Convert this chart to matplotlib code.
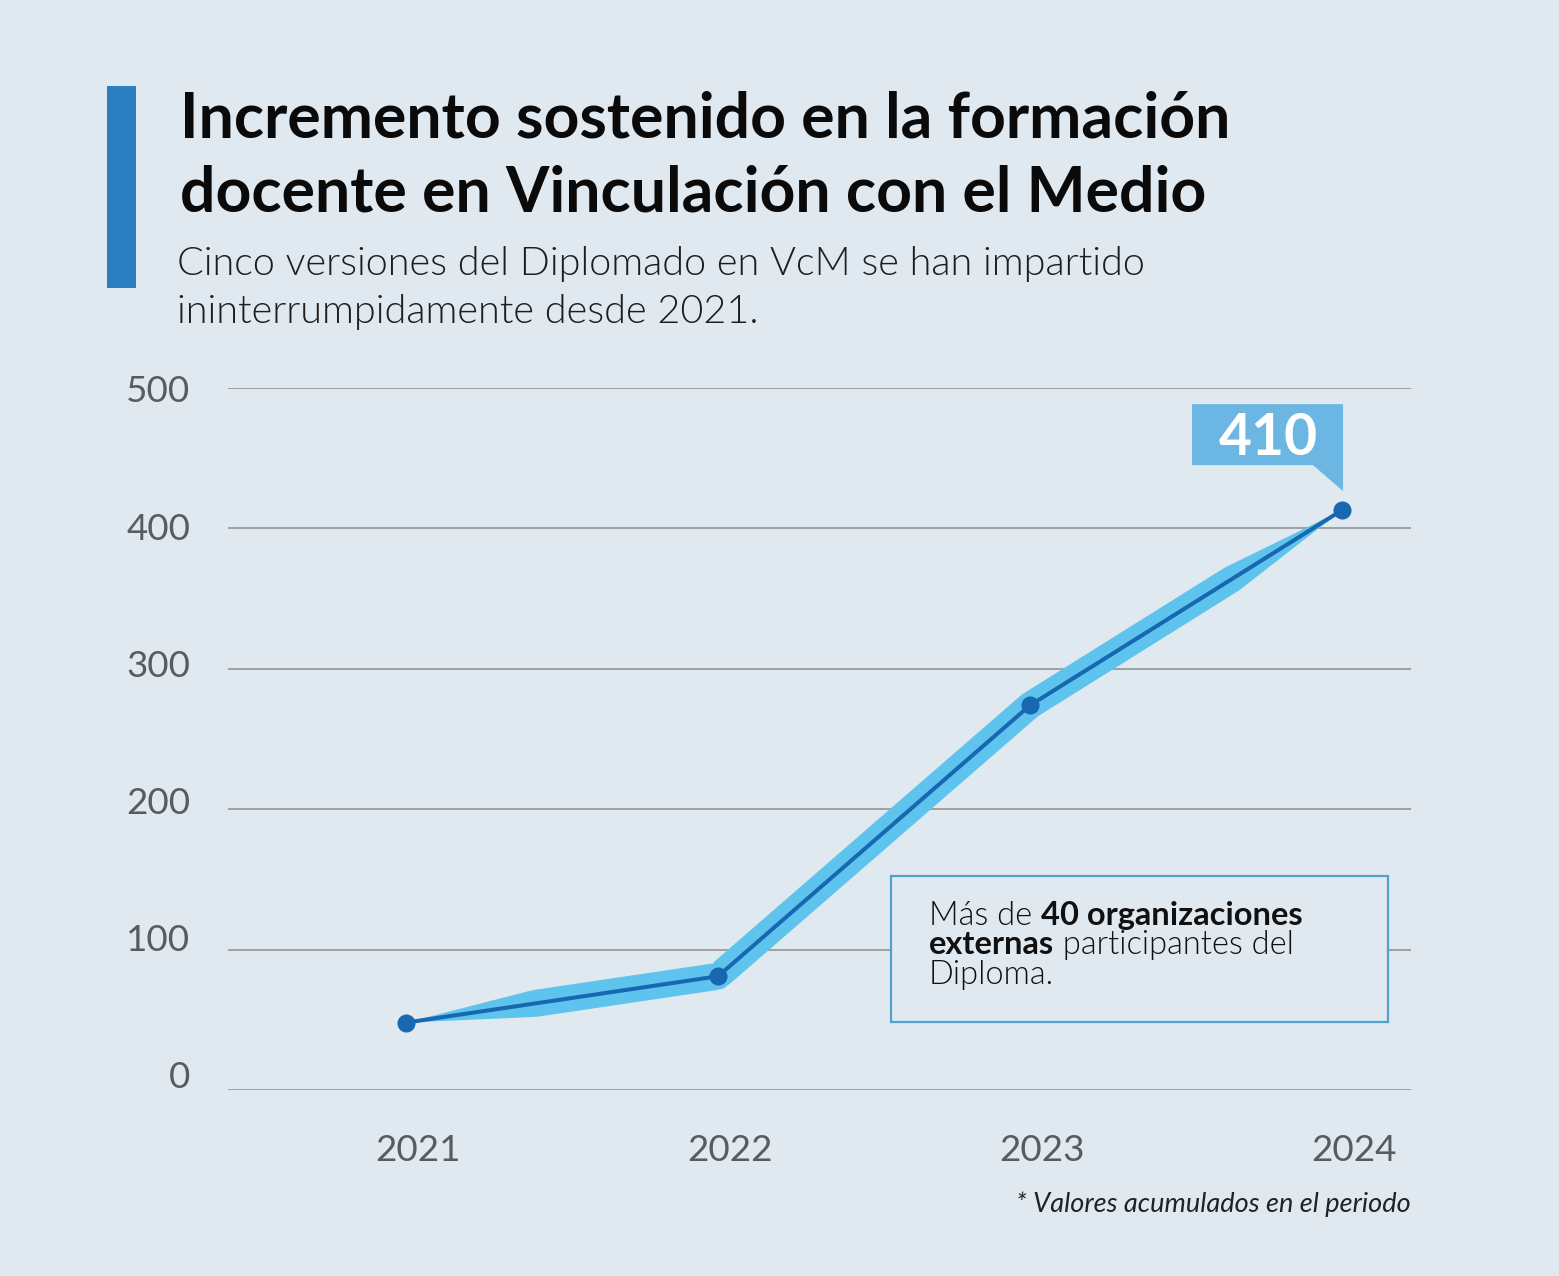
import numpy as np
import matplotlib
matplotlib.use("Agg")
import matplotlib.pyplot as plt
from matplotlib.patches import Rectangle, Polygon
from matplotlib import transforms

# ---------------- data ----------------
years = ["2021", "2022", "2023", "2024"]
values = [48, 81, 274, 413]
highlight_label = "410"
y_ticks = [0, 100, 200, 300, 400, 500]
y_tick_labels = ["0", "100", "200", "300", "400", "500"]

title_lines = ["Incremento sostenido en la formación",
               "docente en Vinculación con el Medio"]
subtitle_lines = ["Cinco versiones del Diplomado en VcM se han impartido",
                  "ininterrumpidamente desde 2021."]
footnote = "* Valores acumulados en el periodo"

# ---------------- style ----------------
BG = "#E1E9F0"
BAND = "#5EC4EE"
LINE = "#1767B1"
CALLOUT = "#6CB6E4"
BAR = "#2A7EC1"
GRID = "#8C8C8C"
TICK = "#585C61"
BOXEDGE = "#4DA3CD"
FONT = "Lato"
LIGHT = 300

W, H = 1559, 1276
fig = plt.figure(figsize=(W / 100, H / 100), dpi=100, facecolor=BG)


def fx(px):
    return px / W


def fy(py):
    return 1 - py / H


ax_l, ax_r, ax_t, ax_b = 228, 1411, 388, 1090
ax = fig.add_axes([fx(ax_l), fy(ax_b), fx(ax_r - ax_l), (ax_b - ax_t) / H])
ax.set_facecolor("none")
for s in ax.spines.values():
    s.set_visible(False)

x = np.arange(len(years))
ax.set_xlim(-0.5705, 3.221)
ax.set_ylim(0, 500)

ax.set_yticks(y_ticks)
ax.set_yticklabels(y_tick_labels)
ax.set_xticks(x)
ax.set_xticklabels(years)
ax.tick_params(axis="both", length=0, colors=TICK, labelsize=26.5)
ax.tick_params(axis="y", pad=27)
ax.tick_params(axis="x", pad=32)
for val, lab in zip(y_ticks, ax.get_yticklabels()):
    lab.set_fontfamily(FONT)
    # labels sit progressively higher above their gridline towards the bottom
    shift = (15 - 16 * val / 500) / 100
    lab.set_transform(lab.get_transform() + transforms.ScaledTranslation(0, shift, fig.dpi_scale_trans))
for lab in ax.get_xticklabels():
    lab.set_fontfamily(FONT)
    lab.set_transform(lab.get_transform() + transforms.ScaledTranslation(12 / 100, 0, fig.dpi_scale_trans))
ax.grid(axis="y", color=GRID, linewidth=1.1)
ax.grid(axis="x", visible=False)
ax.set_axisbelow(True)

# ---------------- band (tapered ribbon around the line) ----------------
fig.canvas.draw()
pts = ax.transData.transform(np.column_stack([x, values]))
dense = []
for i in range(len(pts) - 1):
    for t in np.linspace(0, 1, 60, endpoint=False):
        dense.append(pts[i] + t * (pts[i + 1] - pts[i]))
dense.append(pts[-1])
dense = np.array(dense)
seg = np.diff(dense, axis=0)
seglen = np.hypot(seg[:, 0], seg[:, 1])
s = np.concatenate([[0], np.cumsum(seglen)])
L = s[-1]
half = 13.5
ramp = 130.0
wprof = half * np.clip(np.minimum(s / ramp, (L - s) / ramp), 0, 1)
tang = np.zeros_like(dense)
tang[1:-1] = seg[:-1] / seglen[:-1, None] + seg[1:] / seglen[1:, None]
tang[0] = seg[0] / seglen[0]
tang[-1] = seg[-1] / seglen[-1]
tang /= np.hypot(tang[:, 0], tang[:, 1])[:, None]
norm = np.column_stack([-tang[:, 1], tang[:, 0]])
upper = dense + norm * wprof[:, None]
lower = dense - norm * wprof[:, None]
poly_disp = np.vstack([upper, lower[::-1]])
poly_data = ax.transData.inverted().transform(poly_disp)
ax.add_patch(Polygon(poly_data, closed=True, facecolor=BAND, edgecolor="none", zorder=2))

ax.plot(x, values, color=LINE, linewidth=2.9, zorder=3, solid_capstyle="round")
ax.plot(x, values, "o", color=LINE, markersize=12, zorder=4)

# ---------------- callout on last point ----------------
anchor = transforms.ScaledTranslation(x[-1], values[-1], ax.transData)
tr = fig.dpi_scale_trans + anchor
callout = np.array([[-150, 45], [-29, 45], [1, 19], [1, 45], [1, 106], [-150, 106]]) / 100
ax.add_patch(Polygon(callout, closed=True, transform=tr, facecolor=CALLOUT,
                     edgecolor="none", clip_on=False, zorder=5))
ax.text(-74 / 100, 55 / 100, highlight_label, transform=tr, ha="center", va="baseline",
        color="white", fontsize=41, fontweight="bold", family=FONT, zorder=6)

# ---------------- header ----------------
fig.patches.append(Rectangle((fx(107), fy(288)), fx(29), (288 - 86) / H,
                             transform=fig.transFigure, facecolor=BAR, edgecolor="none"))

renderer = fig.canvas.get_renderer()


def fit(t, width_px, max_fs):
    bb = t.get_window_extent(renderer)
    t.set_fontsize(min(max_fs, t.get_fontsize() * width_px / bb.width))
    return t.get_fontsize()


t1 = fig.text(fx(180), fy(137), title_lines[0], ha="left", va="baseline",
              fontsize=42, fontweight="bold", family=FONT, color="#0A0A0A")
fs = fit(t1, 1203, 45)
fig.text(fx(180), fy(212), title_lines[1], ha="left", va="baseline",
         fontsize=fs, fontweight="bold", family=FONT, color="#0A0A0A")

s1 = fig.text(fx(177), fy(275), subtitle_lines[0], ha="left", va="baseline",
              fontsize=25, fontweight=LIGHT, family=FONT, color="#1E1E1E")
fs2 = fit(s1, 1151, 28.5)
fig.text(fx(177), fy(323), subtitle_lines[1], ha="left", va="baseline",
         fontsize=fs2, fontweight=LIGHT, family=FONT, color="#1E1E1E")

# ---------------- info box ----------------
fig.patches.append(Rectangle((fx(891), fy(1022)), fx(1388 - 891), (1022 - 876) / H,
                             transform=fig.transFigure, facecolor=BG, edgecolor=BOXEDGE,
                             linewidth=1.6, zorder=3))
box_fs = 23.5
b1 = fig.text(fx(929), fy(925), "Más de ", ha="left", va="baseline", fontsize=box_fs,
              fontweight=LIGHT, family=FONT, color="#111111", zorder=4)
bb1 = b1.get_window_extent(renderer)
fig.text(bb1.x1 / W, fy(925), "40 organizaciones", ha="left", va="baseline", fontsize=box_fs,
         fontweight="bold", family=FONT, color="#111111", zorder=4)
b3 = fig.text(fx(929), fy(954), "externas", ha="left", va="baseline", fontsize=box_fs,
              fontweight="bold", family=FONT, color="#111111", zorder=4)
bb3 = b3.get_window_extent(renderer)
fig.text(bb3.x1 / W, fy(954), " participantes del", ha="left", va="baseline", fontsize=box_fs,
         fontweight=LIGHT, family=FONT, color="#111111", zorder=4)
fig.text(fx(929), fy(984), "Diploma.", ha="left", va="baseline", fontsize=box_fs,
         fontweight=LIGHT, family=FONT, color="#111111", zorder=4)

# ---------------- footnote ----------------
fn = fig.text(fx(1411), fy(1212), footnote, ha="right", va="baseline", fontsize=17,
              style="italic", family=FONT, color="#222222")
fit(fn, 434, 19.5)

fig.savefig("out.png", dpi=100, facecolor=BG)
